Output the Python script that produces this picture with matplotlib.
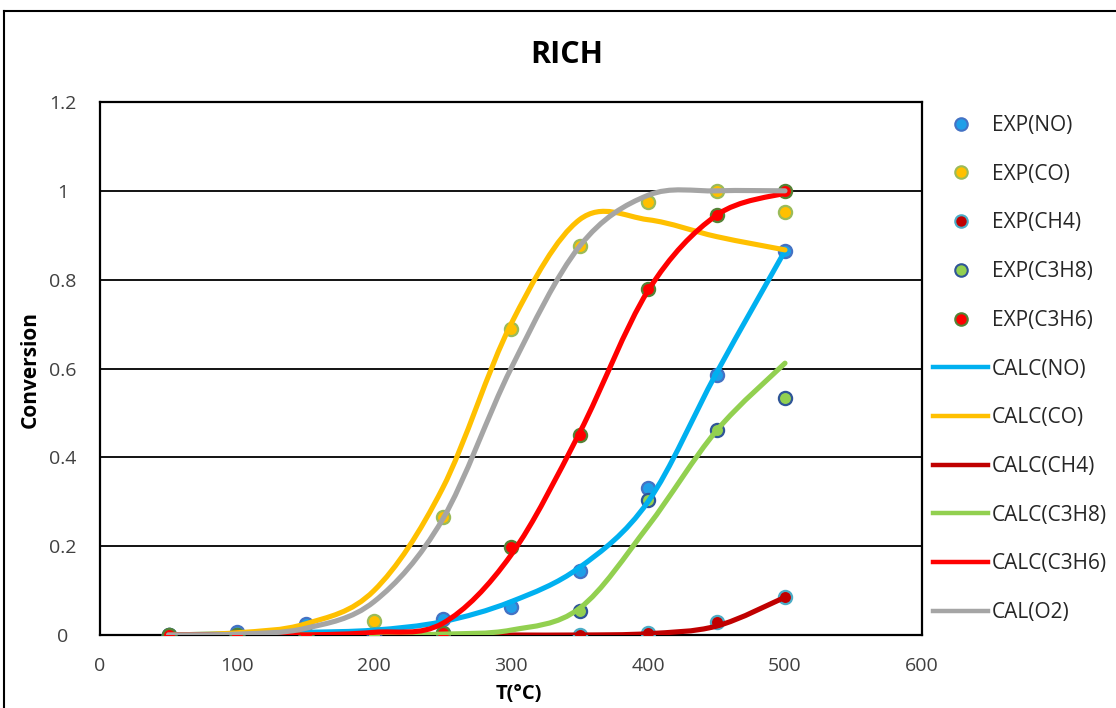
import numpy as np
import matplotlib
matplotlib.use("Agg")
import matplotlib.pyplot as plt
from matplotlib.path import Path
from matplotlib.patches import PathPatch
from matplotlib.lines import Line2D

plt.rcParams['font.family'] = ['Open Sans', 'DejaVu Sans']

# Temperatures (deg C)
temps = [50, 100, 150, 200, 250, 300, 350, 400, 450, 500]

# Experimental conversions
exp_no = [0.0, 0.007, 0.025, 0.0, 0.037, 0.062, 0.145, 0.332, 0.585, 0.865]
exp_co = [0.0, 0.0, 0.0, 0.032, 0.265, 0.69, 0.875, 0.975, 1.0, 0.953]
exp_ch4 = [0.0, 0.0, 0.0, np.nan, np.nan, np.nan, 0.0, 0.004, 0.03, 0.085]
exp_c3h8 = [0.0, 0.0, 0.0, 0.0, 0.005, np.nan, 0.055, 0.303, 0.462, 0.533]
exp_c3h6 = [0.0, 0.0, 0.0, np.nan, 0.005, 0.197, 0.45, 0.778, 0.946, 1.0]

# Model conversions
calc_no = [0.0, 0.003, 0.006, 0.011, 0.03, 0.075, 0.152, 0.30, 0.59, 0.865]
calc_co = [0.0, 0.005, 0.025, 0.10, 0.33, 0.70, 0.935, 0.935, 0.897, 0.867]
calc_ch4 = [0.0, 0.0, 0.0, 0.0, 0.0, 0.0, 0.0, 0.003, 0.02, 0.085]
calc_c3h8 = [0.0, 0.0, 0.0, 0.0, 0.002, 0.011, 0.06, 0.245, 0.46, 0.612]
calc_c3h6 = [0.0, 0.0, 0.0, 0.006, 0.026, 0.18, 0.455, 0.775, 0.945, 0.995]
calc_o2 = [0.0, 0.002, 0.015, 0.075, 0.26, 0.60, 0.875, 0.99, 1.0, 1.0]

exp_labels = ['EXP(NO)', 'EXP(CO)', 'EXP(CH4)', 'EXP(C3H8)', 'EXP(C3H6)']
calc_labels = ['CALC(NO)', 'CALC(CO)', 'CALC(CH4)', 'CALC(C3H8)', 'CALC(C3H6)', 'CAL(O2)']

x_ticks = [0, 100, 200, 300, 400, 500, 600]
y_ticks = [0, 0.2, 0.4, 0.6, 0.8, 1.0, 1.2]
y_tick_labels = ['0', '0.2', '0.4', '0.6', '0.8', '1', '1.2']

exp_face = ['#1f9fe8', '#ffc000', '#c00000', '#92d050', '#ff0000']
exp_edge = ['#4472c4', '#9bbb59', '#4bacc6', '#2f5597', '#548235']
calc_colors = ['#00b0f0', '#ffc000', '#c00000', '#92d050', '#ff0000', '#a5a5a5']

W, H = 1116, 708
fig = plt.figure(figsize=(W / 100, H / 100), dpi=100)
ax = fig.add_axes([100 / W, (H - 635) / H, 822 / W, 533 / H])

ax.set_xlim(0, 600)
ax.set_ylim(0, 1.2)
ax.set_xticks(x_ticks)
ax.set_yticks(y_ticks)
ax.set_yticklabels(y_tick_labels)
ax.tick_params(length=0, labelsize=14, colors='#404040')
ax.tick_params(axis='y', pad=27)
ax.tick_params(axis='x', pad=16)
for lab in ax.get_yticklabels():
    lab.set_horizontalalignment('center')
for s in ax.spines.values():
    s.set_linewidth(1.6)
    s.set_color('black')
ax.grid(axis='y', color='black', linewidth=1.3)
ax.set_axisbelow(True)


def smooth_path(xs, ys):
    """Catmull-Rom style cubic Bezier path through the given points."""
    pts = np.column_stack([xs, ys]).astype(float)
    n = len(pts)
    verts = [pts[0]]
    codes = [Path.MOVETO]
    for i in range(n - 1):
        p0 = pts[i - 1] if i > 0 else pts[i]
        p1 = pts[i]
        p2 = pts[i + 1]
        p3 = pts[i + 2] if i + 2 < n else pts[i + 1]
        c1 = p1 + (p2 - p0) / 6.0
        c2 = p2 - (p3 - p1) / 6.0
        verts += [c1, c2, p2]
        codes += [Path.CURVE4] * 3
    return Path(verts, codes)


exp_series = [exp_no, exp_co, exp_ch4, exp_c3h8, exp_c3h6]
for k, ys in enumerate(exp_series):
    ax.scatter(temps, ys, s=90, facecolor=exp_face[k], edgecolor=exp_edge[k],
               linewidth=1.6, zorder=3 + k * 0.01)

calc_series = [calc_no, calc_co, calc_ch4, calc_c3h8, calc_c3h6, calc_o2]
for k, ys in enumerate(calc_series):
    patch = PathPatch(smooth_path(temps, ys), facecolor='none',
                      edgecolor=calc_colors[k], linewidth=3.7,
                      capstyle='round', joinstyle='round',
                      transform=ax.transData, zorder=4 + k * 0.01)
    ax.add_patch(patch)

handles = []
for k in range(5):
    handles.append(Line2D([], [], linestyle='none', marker='o', markersize=9,
                          markerfacecolor=exp_face[k], markeredgecolor=exp_edge[k],
                          markeredgewidth=1.5))
for k in range(6):
    handles.append(Line2D([], [], color=calc_colors[k], linewidth=3.2))

fig.legend(handles, exp_labels + calc_labels, loc='upper left',
           bbox_to_anchor=(933 / W, 1 - 115 / H), frameon=False,
           fontsize=15, handlelength=2.64, handletextpad=0.19,
           labelspacing=1.33, borderpad=0, borderaxespad=0,
           labelcolor='#262626')

fig.text(567 / W, 1 - 55 / H, 'RICH', ha='center', va='center',
         fontsize=22, fontweight='bold', color='black')
fig.text(30 / W, 1 - 369 / H, 'Conversion', ha='center', va='center',
         rotation=90, fontsize=15, fontweight='bold', color='black')
fig.text(519 / W, 1 - 694 / H, 'T(°C)', ha='center', va='center',
         fontsize=14.5, fontweight='bold', color='black')

# Outer chart border
fig.add_artist(Line2D([4 / W, 1.0], [1 - 11 / H, 1 - 11 / H], color='black',
                      linewidth=1.5, transform=fig.transFigure))
fig.add_artist(Line2D([4 / W, 4 / W], [0.0, 1 - 11 / H], color='black',
                      linewidth=1.5, transform=fig.transFigure))

fig.savefig('out.png', dpi=100)
